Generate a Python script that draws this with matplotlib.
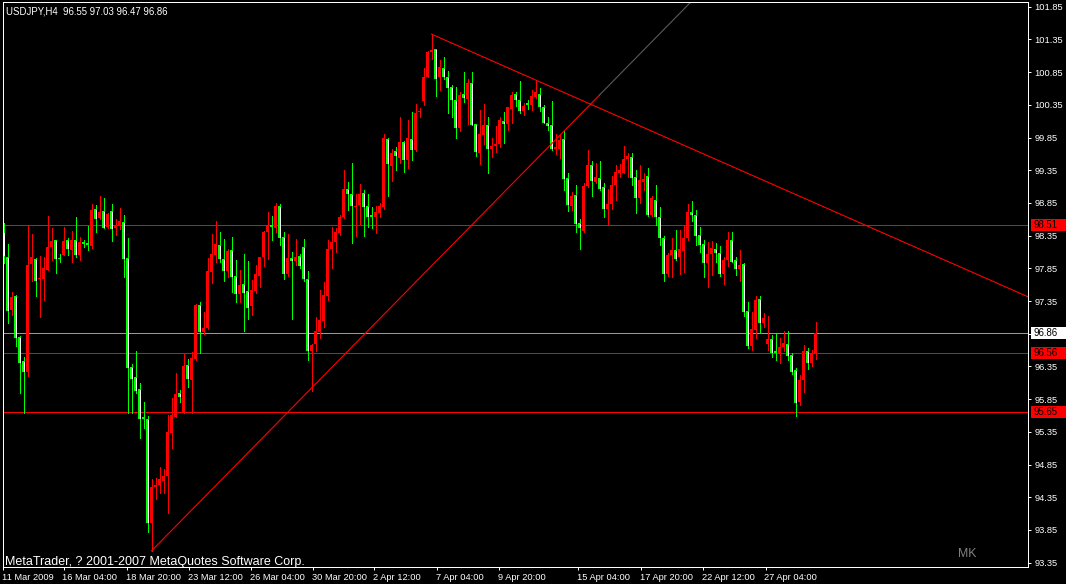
import matplotlib
matplotlib.use("Agg")
import matplotlib.pyplot as plt
import matplotlib.transforms as mtransforms
from matplotlib.patches import Rectangle
import numpy as np

# ---------------- data (USDJPY H4, bars left to right) ----------------
opens = [
    98.41, 98.02, 97.22, 97.43, 96.80, 96.43, 96.27, 97.92, 98.00, 97.68,
    97.68, 97.83, 98.18, 98.28, 98.01, 98.05, 98.28, 98.13, 98.28, 98.06,
    98.25, 98.24, 98.19, 98.76, 98.62, 98.73, 98.48, 98.73, 98.47, 98.49,
    98.56, 98.01, 96.34, 96.19, 96.00, 95.58, 95.55, 93.95, 94.50, 94.53,
    94.60, 94.67, 95.34, 95.58, 95.94, 95.66, 96.37, 96.15, 96.46, 97.29,
    96.88, 96.94, 97.80, 98.06, 98.21, 97.99, 97.81, 98.13, 97.73, 97.45,
    97.61, 97.51, 97.28, 97.50, 97.74, 98.02, 98.41, 98.52, 98.47, 98.81,
    98.33, 97.77, 98.01, 97.96, 98.04, 98.18, 97.69, 96.58, 96.70, 96.88,
    97.05, 97.43, 98.15, 98.25, 98.39, 98.64, 99.07, 98.99, 98.79, 98.82,
    99.00, 98.80, 98.66, 98.64, 98.70, 98.79, 99.83, 99.42, 99.64, 99.54,
    99.78, 99.51, 99.83, 99.66, 100.24, 100.41, 100.78, 101.16, 101.20, 100.77,
    100.91, 100.77, 100.62, 100.42, 100.00, 100.51, 100.44, 100.69, 100.05, 99.62,
    99.89, 100.04, 99.67, 99.72, 99.75, 100.10, 100.06, 100.28, 100.51, 100.42,
    100.25, 100.37, 100.35, 100.47, 100.52, 100.31, 100.07, 100.04, 99.67, 99.67,
    99.83, 99.23, 98.81, 98.97, 98.54, 98.42, 99.11, 99.43, 99.17, 99.23,
    99.09, 98.75, 98.83, 99.12, 99.30, 99.31, 99.52, 99.55, 99.24, 98.93,
    99.17, 99.26, 98.67, 98.90, 98.63, 98.32, 97.77, 98.05, 98.13, 98.03,
    98.12, 98.31, 98.71, 98.66, 98.36, 98.22, 97.93, 98.07, 98.15, 98.09,
    97.76, 97.98, 98.29, 97.97, 97.84, 97.92, 97.20, 96.66, 96.91, 97.38,
    97.01, 96.70, 96.77, 96.58, 96.56, 96.64, 96.70, 96.52, 96.30, 95.80,
    96.15, 96.58, 96.41, 96.55]

highs = [
    98.54, 98.22, 97.49, 97.44, 96.81, 96.49, 98.50, 98.38, 98.01, 98.04,
    98.03, 98.65, 98.47, 98.29, 98.07, 98.48, 98.31, 98.42, 98.64, 98.33,
    98.28, 98.50, 98.83, 98.82, 98.96, 98.93, 98.69, 98.83, 98.60, 98.77,
    98.67, 98.31, 96.39, 96.59, 96.10, 95.80, 95.60, 94.63, 94.65, 94.82,
    94.78, 95.61, 95.87, 96.25, 95.99, 96.55, 96.46, 96.57, 97.30, 97.34,
    97.18, 98.01, 98.37, 98.57, 98.41, 98.30, 98.15, 98.33, 97.98, 97.83,
    98.07, 97.96, 97.67, 97.90, 98.02, 98.42, 98.71, 98.65, 98.85, 98.83,
    98.41, 98.37, 98.10, 98.30, 98.07, 98.30, 97.81, 96.70, 97.11, 97.52,
    97.64, 98.28, 98.48, 98.47, 98.67, 99.35, 99.17, 99.46, 98.98, 99.14,
    99.05, 98.99, 98.79, 98.81, 98.85, 99.90, 99.84, 99.67, 99.71, 100.16,
    99.80, 100.12, 100.24, 100.36, 100.30, 100.91, 101.17, 101.43, 101.20, 101.04,
    101.08, 100.87, 100.65, 100.62, 100.55, 100.85, 100.74, 100.85, 100.06, 100.27,
    100.36, 100.17, 99.85, 100.03, 100.16, 100.24, 100.31, 100.55, 100.54, 100.71,
    100.37, 100.43, 100.57, 100.73, 100.60, 100.35, 100.16, 100.41, 99.90, 99.90,
    99.95, 99.30, 99.02, 99.12, 98.61, 99.15, 99.66, 99.49, 99.46, 99.49,
    99.15, 99.06, 99.26, 99.43, 99.45, 99.72, 99.62, 99.61, 99.36, 99.43,
    99.30, 99.39, 98.96, 99.12, 98.78, 98.34, 98.08, 98.32, 98.44, 98.43,
    98.49, 98.83, 98.88, 98.74, 98.48, 98.28, 98.26, 98.27, 98.23, 98.19,
    98.03, 98.41, 98.41, 98.03, 98.13, 97.93, 97.34, 97.19, 97.43, 97.42,
    97.16, 97.12, 96.83, 96.85, 96.78, 96.89, 96.89, 96.55, 96.32, 96.22,
    96.68, 96.63, 96.60, 97.03]

lows = [
    97.93, 97.02, 97.14, 96.67, 95.95, 95.64, 96.21, 97.65, 97.43, 97.11,
    97.37, 97.82, 97.98, 97.78, 97.95, 98.05, 98.05, 97.95, 98.03, 97.98,
    98.18, 98.13, 98.16, 98.41, 98.61, 98.47, 98.47, 98.27, 98.36, 98.45,
    97.72, 95.64, 95.64, 95.94, 95.25, 95.41, 93.82, 93.53, 94.32, 94.42,
    94.42, 94.11, 95.11, 95.57, 95.81, 95.64, 96.03, 95.64, 96.45, 96.56,
    96.85, 96.92, 97.62, 97.95, 97.95, 97.66, 97.71, 97.49, 97.33, 97.33,
    96.89, 97.08, 97.13, 97.48, 97.57, 97.89, 98.00, 98.29, 98.40, 98.21,
    97.69, 97.74, 97.08, 97.90, 97.85, 97.65, 96.45, 95.98, 96.58, 96.79,
    96.96, 97.37, 97.86, 98.10, 98.36, 98.62, 98.74, 98.24, 98.34, 98.53,
    98.34, 98.48, 98.46, 98.39, 98.63, 98.76, 98.96, 99.19, 99.35, 99.46,
    99.33, 99.39, 99.51, 99.65, 100.16, 100.35, 100.77, 101.05, 100.49, 100.57,
    100.74, 100.23, 100.16, 99.85, 99.95, 100.40, 100.06, 100.04, 99.56, 99.45,
    99.75, 99.31, 99.55, 99.63, 99.71, 99.77, 99.96, 100.07, 100.33, 100.22,
    100.19, 100.28, 100.27, 100.45, 100.26, 100.07, 99.96, 99.66, 99.60, 99.53,
    99.05, 98.72, 98.74, 98.40, 98.14, 98.41, 99.10, 98.95, 99.15, 99.05,
    98.64, 98.51, 98.75, 98.90, 99.25, 99.30, 99.25, 99.12, 98.69, 98.85,
    99.04, 98.65, 98.65, 98.51, 98.21, 97.65, 97.73, 97.72, 97.98, 97.77,
    97.80, 98.29, 98.58, 98.21, 98.10, 97.72, 97.56, 97.75, 97.95, 97.74,
    97.61, 97.88, 97.95, 97.75, 97.65, 97.12, 96.63, 96.60, 96.78, 96.88,
    96.96, 96.60, 96.50, 96.45, 96.41, 96.58, 96.45, 96.23, 95.59, 95.76,
    95.96, 96.31, 96.35, 96.47]

closes = [
    98.04, 97.20, 97.41, 96.78, 96.41, 96.26, 97.90, 98.02, 97.66, 97.70,
    97.86, 98.18, 98.27, 98.00, 98.00, 98.27, 98.15, 98.28, 98.06, 98.25,
    98.22, 98.21, 98.74, 98.61, 98.71, 98.47, 98.68, 98.45, 98.50, 98.57,
    98.00, 96.33, 96.16, 95.98, 95.55, 95.54, 93.96, 94.50, 94.53, 94.63,
    94.68, 95.35, 95.61, 95.93, 95.89, 96.36, 96.16, 96.48, 97.29, 96.88,
    96.94, 97.81, 98.07, 98.22, 98.00, 97.81, 98.12, 97.71, 97.46, 97.60,
    97.48, 97.25, 97.52, 97.76, 98.02, 98.41, 98.51, 98.48, 98.80, 98.31,
    97.77, 98.01, 97.96, 98.02, 97.89, 97.68, 96.59, 96.68, 96.89, 97.06,
    97.44, 98.15, 98.25, 98.40, 98.64, 99.06, 98.98, 98.80, 98.81, 98.99,
    98.79, 98.64, 98.64, 98.71, 98.80, 99.84, 99.45, 99.62, 99.56, 99.78,
    99.51, 99.84, 99.66, 100.23, 100.25, 100.78, 101.16, 101.19, 100.75, 100.93,
    100.77, 100.61, 100.43, 99.99, 100.50, 100.45, 100.68, 100.04, 99.63, 99.90,
    100.04, 99.68, 99.72, 99.75, 100.12, 100.06, 100.31, 100.50, 100.43, 100.26,
    100.33, 100.34, 100.48, 100.54, 100.31, 100.07, 100.02, 99.68, 99.70, 99.81,
    99.21, 98.82, 98.96, 98.53, 98.46, 99.11, 99.43, 99.19, 99.24, 99.06,
    98.75, 98.83, 99.12, 99.33, 99.35, 99.52, 99.57, 99.23, 98.92, 99.20,
    99.22, 98.67, 98.92, 98.64, 98.32, 97.77, 98.05, 98.13, 98.00, 98.15,
    98.31, 98.71, 98.67, 98.35, 98.20, 97.93, 98.07, 98.16, 98.09, 97.76,
    97.98, 98.28, 97.95, 97.84, 97.90, 97.19, 96.66, 96.92, 97.37, 97.01,
    97.09, 96.77, 96.56, 96.56, 96.64, 96.71, 96.51, 96.27, 95.79, 96.15,
    96.58, 96.41, 96.55, 96.86]

# price axis
y_ticks = [93.35, 93.85, 94.35, 94.85, 95.35, 95.85, 96.35, 96.85, 97.35,
           97.85, 98.35, 98.85, 99.35, 99.85, 100.35, 100.85, 101.35, 101.85]
# time axis (bar index where each label sits)
x_tick_bars = [-0.1, 15, 30.8, 46.4, 61.8, 77.3, 92.7, 108.3, 123.9, 143.7,
               159.3, 174.9, 190.5]
x_tick_labels = ["11 Mar 2009", "16 Mar 04:00", "18 Mar 20:00", "23 Mar 12:00",
                 "26 Mar 04:00", "30 Mar 20:00", "2 Apr 12:00", "7 Apr 04:00",
                 "9 Apr 20:00", "15 Apr 04:00", "17 Apr 20:00", "22 Apr 12:00",
                 "27 Apr 04:00"]

# horizontal level lines
red_levels = [98.51, 96.56, 95.65]
bid_level = 96.86

# trend lines: (bar, price) anchors
down_trend = [(107, 101.43), (133, 100.73)]
up_trend_red = [(37, 93.53), (149, 100.50)]
up_trend_grey_end_bar = 200

title_text = "USDJPY,H4  96.55 97.03 96.47 96.86"
copyright_text = "MetaTrader, ? 2001-2007 MetaQuotes Software Corp."

# ---------------- drawing ----------------
W, H = 1066, 584
fig = plt.figure(figsize=(W / 100, H / 100), dpi=100, facecolor="black")
ax = fig.add_axes([3 / W, 17 / H, (1028.3 - 3) / W, (567 - 2.3) / H])
ax.set_facecolor("black")

PX = 0.72  # one pixel in points
FONT = "Liberation Sans"

o = np.array(opens); h = np.array(highs); l = np.array(lows); c = np.array(closes)
x = np.arange(len(o))
up = c > o

lime = "#00ff00"
red = "#ff0000"
ypx = (101.917 - 93.284) / 564.7  # price per pixel

# wicks
wick_cols = [red if u else lime for u in up]
ax.vlines(x, l, h, colors=wick_cols, linewidth=PX, antialiased=False, zorder=3)

# bodies (3 px wide): red filled for up bars, lime with white core for down bars
bottoms = np.minimum(o, c)
tops = np.maximum(o, c)
heights = np.maximum(tops - bottoms, ypx)
body_cols = [red if u else lime for u in up]
ax.bar(x, heights, bottom=bottoms, width=0.75, color=body_cols, linewidth=0,
       antialiased=False, zorder=4)
dn = ~up & ((tops - bottoms) > 2.5 * ypx)
ax.vlines(x[dn], bottoms[dn] + ypx, tops[dn] - ypx, colors="white",
          linewidth=PX, antialiased=False, zorder=5)

# horizontal lines
for lv in red_levels:
    ax.axhline(lv, color=red, linewidth=PX, antialiased=True, snap=True, zorder=2)
ax.axhline(bid_level, color="#8f9aa6", linewidth=PX, antialiased=True, snap=True,
           zorder=2)

# descending trend line (ray to the right)
(b1, p1), (b2, p2) = down_trend
slope = (p2 - p1) / (b2 - b1)
xe = 300
ax.plot([b1, xe], [p1, p1 + slope * (xe - b1)], color=red, linewidth=0.8,
        antialiased=True, zorder=6)

# ascending line: red part then grey continuation
(a1, q1), (a2, q2) = up_trend_red
s2 = (q2 - q1) / (a2 - a1)
ax.plot([a1, a2], [q1, q2], color=red, linewidth=0.8, antialiased=True, zorder=6)
ax.plot([a2, up_trend_grey_end_bar], [q2, q2 + s2 * (up_trend_grey_end_bar - a2)],
        color="#5a5a5a", linewidth=0.8, antialiased=True, zorder=6)

# limits
ax.set_xlim(-0.125, 256.2)
ax.set_ylim(93.284, 101.917)

# spines
for s in ax.spines.values():
    s.set_color("white")
    s.set_linewidth(PX)
    s.set_zorder(7)

# axes ticks
ax.yaxis.tick_right()
ax.set_yticks(y_ticks)
ax.set_yticklabels([f"{v:.2f}" for v in y_ticks])
ax.tick_params(axis="y", colors="white", length=3 * PX, width=PX, direction="out",
               pad=2.2, labelsize=6.7, labelcolor="white")
ax.set_xticks(x_tick_bars)
ax.set_xticklabels(x_tick_labels, ha="left")
ax.tick_params(axis="x", colors="white", length=3 * PX, width=PX, direction="out",
               pad=2.5, labelsize=6.7, labelcolor="white")
for lab in ax.get_xticklabels() + ax.get_yticklabels():
    lab.set_fontfamily(FONT)
offset = mtransforms.ScaledTranslation(-1 / 100, 0, fig.dpi_scale_trans)
for lab in ax.get_xticklabels():
    lab.set_transform(lab.get_transform() + offset)

# price label boxes on the right
bt = mtransforms.blended_transform_factory(fig.transFigure, ax.transData)
half = 6.2 * ypx
def price_box(price, fc):
    r = Rectangle((1031 / W, price - half), 34.5 / W, 2 * half, transform=bt,
                  facecolor=fc, edgecolor="none", clip_on=False, zorder=10)
    ax.add_artist(r)
    ax.text(1033.5 / W, price, f"{price:.2f}", transform=bt, color="black",
            fontsize=6.9, family=FONT, va="center", ha="left", zorder=11,
            clip_on=False)
for lv in red_levels:
    price_box(lv, red)
price_box(bid_level, "white")

# texts
fig.text(6.5 / W, 1 - 6.5 / H, title_text, color="white", fontsize=6.9,
         family=FONT, va="top", ha="left")
fig.text(5 / W, 19 / H, copyright_text, color="white", fontsize=9,
         family=FONT, va="baseline", ha="left", zorder=20)
fig.text(958 / W, 27 / H, "MK", color="#808080", fontsize=8.8,
         family=FONT, va="baseline", ha="left")

fig.savefig("out.png", dpi=100, facecolor="black")
